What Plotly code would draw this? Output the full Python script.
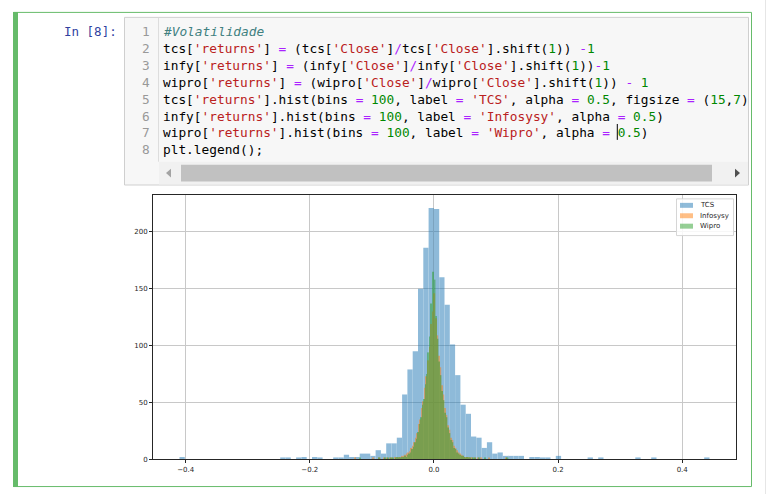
import re
import numpy as np
import plotly.graph_objects as go

W, H = 770, 498

# ---------------- data (bin counts) ----------------
series_names = ["TCS", "Infosysy", "Wipro"]
series_colors = ["#1f77b4", "#ff7f0e", "#2ca02c"]

tcs_range = (-0.410, 0.444)
tcs_counts = [
    2, 0, 0, 0, 0, 0, 0, 0, 0, 0,
    0, 0, 0, 0, 0, 0, 0, 0, 0, 1,
    1, 0, 1, 2, 0, 2, 1, 0, 0, 1,
    1, 4, 2, 2, 5, 5, 3, 8, 5, 14,
    14, 19, 57, 79, 95, 150, 186, 221, 220, 160,
    136, 101, 74, 48, 40, 20, 19, 10, 15, 5,
    6, 3, 3, 3, 3, 0, 2, 2, 1, 1,
    0, 3, 0, 0, 0, 0, 0, 1, 0, 1,
    0, 0, 0, 0, 0, 0, 1, 0, 0, 1,
    0, 0, 0, 0, 0, 0, 0, 0, 0, 1,
]

infy_range = (-0.128, 0.117)
infy_counts = [
    1, 0, 0, 0, 0, 0, 0, 0, 0, 0,
    0, 0, 1, 0, 0, 0, 1, 0, 0, 1,
    0, 1, 0, 1, 1, 0, 2, 1, 1, 2,
    2, 3, 3, 4, 5, 6, 7, 10, 12, 15,
    19, 23, 31, 35, 45, 51, 63, 73, 87, 99,
    119, 130, 146, 124, 109, 91, 81, 65, 57, 45,
    39, 30, 26, 19, 17, 12, 10, 8, 6, 5,
    4, 3, 2, 2, 2, 1, 1, 1, 0, 1,
    0, 1, 0, 1, 0, 0, 0, 0, 1, 0,
    0, 0, 0, 0, 0, 0, 0, 0, 0, 1,
]

wipro_range = (-0.120, 0.120)
wipro_counts = [
    1, 0, 0, 0, 0, 0, 0, 0, 0, 0,
    0, 0, 0, 1, 0, 0, 0, 1, 0, 1,
    0, 1, 1, 0, 1, 2, 1, 1, 2, 2,
    3, 2, 4, 5, 6, 9, 11, 15, 18, 24,
    31, 37, 48, 53, 66, 75, 94, 108, 137, 165,
    158, 126, 106, 86, 74, 60, 52, 41, 37, 28,
    23, 17, 15, 10, 9, 6, 5, 4, 3, 3,
    2, 1, 2, 1, 1, 0, 1, 1, 0, 0,
    1, 0, 0, 0, 1, 0, 0, 0, 0, 0,
    0, 0, 0, 0, 0, 0, 0, 0, 0, 1,
]

x_ticks = [-0.4, -0.2, 0.0, 0.2, 0.4]
y_ticks = [0, 50, 100, 150, 200]

prompt_text = "In [8]:"
code_lines = [
    "#Volatilidade",
    "tcs['returns'] = (tcs['Close']/tcs['Close'].shift(1)) -1",
    "infy['returns'] = (infy['Close']/infy['Close'].shift(1))-1",
    "wipro['returns'] = (wipro['Close']/wipro['Close'].shift(1)) - 1",
    "tcs['returns'].hist(bins = 100, label = 'TCS', alpha = 0.5, figsize = (15,7)",
    "infy['returns'].hist(bins = 100, label = 'Infosysy', alpha = 0.5)",
    "wipro['returns'].hist(bins = 100, label = 'Wipro', alpha = 0.5)",
    "plt.legend();",
]

# ---------------- helpers ----------------
def px(x):
    return x / W

def py(y):
    return 1 - y / H

def highlight(line):
    if line.startswith("#"):
        return '<i><span style="color:#408080">' + line + "</span></i>"
    out = []
    for m in re.finditer(r"'[^']*'|\d+\.?\d*|[=/\-]|[^'\d=/\-]+", line):
        t = m.group(0)
        if t.startswith("'"):
            out.append('<span style="color:#BA2121">' + t + "</span>")
        elif t[0].isdigit():
            out.append('<span style="color:#008800">' + t + "</span>")
        elif t in ("=", "/", "-"):
            out.append('<span style="color:#AA22FF">' + t + "</span>")
        else:
            out.append(t)
    return "".join(out)

# ---------------- figure ----------------
fig = go.Figure()

all_ranges = [tcs_range, infy_range, wipro_range]
all_counts = [tcs_counts, infy_counts, wipro_counts]
for name, color, rng, counts in zip(series_names, series_colors, all_ranges, all_counts):
    edges = np.linspace(rng[0], rng[1], len(counts) + 1)
    centers = (edges[:-1] + edges[1:]) / 2
    width = edges[1] - edges[0]
    fig.add_trace(go.Bar(
        x=centers, y=counts, width=width, name=name,
        marker=dict(color=color, line=dict(width=0)),
        opacity=0.5, showlegend=False,
    ))

lo = min(r[0] for r in all_ranges)
hi = max(r[1] for r in all_ranges)
pad = 0.05 * (hi - lo)
ymax = max(max(c) for c in all_counts) * 1.05

# plot area (pixels)
AX_L, AX_R, AX_T, AX_B = 153, 736, 197, 463

axis_common = dict(
    showline=True, linecolor="#262626", linewidth=1, mirror=True,
    ticks="outside", ticklen=3, tickcolor="#262626", tickwidth=1,
    showgrid=True, gridcolor="#c8c8c8", gridwidth=1, zeroline=False,
    tickfont=dict(family="DejaVu Sans", size=7, color="#262626"),
)

fig.update_layout(
    width=W, height=H,
    margin=dict(l=0, r=0, t=0, b=0),
    paper_bgcolor="white", plot_bgcolor="white",
    barmode="overlay",
    xaxis=dict(domain=[px(AX_L), px(AX_R)], range=[lo - pad, hi + pad],
               tickvals=x_ticks, tickformat=".1f", **axis_common),
    yaxis=dict(domain=[py(AX_B), py(AX_T)], range=[0, ymax],
               tickvals=y_ticks, tickformat="d", **axis_common),
)

shapes = []
annotations = []

# ---- notebook cell chrome ----
shapes.append(dict(type="rect", xref="paper", yref="paper",
                   x0=px(13.5), x1=px(751.5), y0=py(490.5), y1=py(12.5),
                   line=dict(color="#66BB6A", width=1), fillcolor="rgba(0,0,0,0)", layer="below"))
shapes.append(dict(type="rect", xref="paper", yref="paper",
                   x0=px(13), x1=px(18), y0=py(491), y1=py(12),
                   line=dict(width=0), fillcolor="#66BB6A", layer="below"))
# code input area
shapes.append(dict(type="rect", xref="paper", yref="paper",
                   x0=px(124.5), x1=px(748.5), y0=py(186.5), y1=py(17.5),
                   line=dict(color="#cfcfcf", width=1), fillcolor="#f7f7f7", layer="below"))
# gutter separator
shapes.append(dict(type="line", xref="paper", yref="paper",
                   x0=px(158.5), x1=px(158.5), y0=py(163), y1=py(18),
                   line=dict(color="#dddddd", width=1), layer="below"))
# horizontal scrollbar
shapes.append(dict(type="rect", xref="paper", yref="paper",
                   x0=px(159), x1=px(748), y0=py(186), y1=py(163),
                   line=dict(width=0), fillcolor="#f1f1f1", layer="below"))
shapes.append(dict(type="rect", xref="paper", yref="paper",
                   x0=px(181), x1=px(712), y0=py(183), y1=py(166),
                   line=dict(width=0), fillcolor="#c1c1c1", layer="below"))
shapes.append(dict(type="path", xref="paper", yref="paper",
                   path=f"M {px(166)} {py(174.5)} L {px(171)} {py(170)} L {px(171)} {py(179)} Z",
                   line=dict(width=0), fillcolor="#a3a3a3", layer="below"))
shapes.append(dict(type="path", xref="paper", yref="paper",
                   path=f"M {px(740)} {py(174.5)} L {px(735)} {py(170)} L {px(735)} {py(179)} Z",
                   line=dict(width=0), fillcolor="#505050", layer="below"))
# text cursor on line 7
CH = 7.7
X0 = 163
shapes.append(dict(type="line", xref="paper", yref="paper",
                   x0=px(X0 + 59 * CH), x1=px(X0 + 59 * CH),
                   y0=py(141), y1=py(125), line=dict(color="#000000", width=1), layer="above"))
# right page edge line
shapes.append(dict(type="line", xref="paper", yref="paper",
                   x0=px(765.5), x1=px(765.5), y0=py(498), y1=py(0),
                   line=dict(color="#e6e6e6", width=1), layer="below"))

annotations.append(dict(xref="paper", yref="paper", x=px(119), y=py(32),
                        xanchor="right", yanchor="middle", showarrow=False,
                        text=prompt_text,
                        font=dict(family="DejaVu Sans Mono", size=12.5, color="#303F9F")))
for i, line in enumerate(code_lines):
    yc = 32 + i * 17
    annotations.append(dict(xref="paper", yref="paper", x=px(152), y=py(yc),
                            xanchor="right", yanchor="middle", showarrow=False,
                            text=str(i + 1),
                            font=dict(family="DejaVu Sans Mono", size=12.8, color="#999999")))
    annotations.append(dict(xref="paper", yref="paper", x=px(X0 - 2), y=py(yc),
                            xanchor="left", yanchor="middle", showarrow=False,
                            text=highlight(line),
                            font=dict(family="DejaVu Sans Mono", size=12.8, color="#000000")))

# ---- legend (matplotlib style) ----
shapes.append(dict(type="rect", xref="paper", yref="paper",
                   x0=px(676.5), x1=px(733.5), y0=py(237.5), y1=py(200.5),
                   line=dict(color="#d6d6d6", width=1), fillcolor="rgba(255,255,255,0.85)",
                   layer="above"))
for j, (name, color) in enumerate(zip(series_names, series_colors)):
    yc = 207 + j * 10.5
    shapes.append(dict(type="rect", xref="paper", yref="paper",
                       x0=px(680), x1=px(693), y0=py(yc + 2.5), y1=py(yc - 2.5),
                       line=dict(width=0), fillcolor=color, opacity=0.5, layer="above"))
    annotations.append(dict(xref="paper", yref="paper", x=px(698), y=py(yc),
                            xanchor="left", yanchor="middle", showarrow=False,
                            text=name,
                            font=dict(family="DejaVu Sans", size=7, color="#262626")))

fig.update_layout(shapes=shapes, annotations=annotations)

fig.write_html("out.html", config={"displayModeBar": False},
               post_script="document.body.style.margin='0';document.body.style.overflow='hidden';")
